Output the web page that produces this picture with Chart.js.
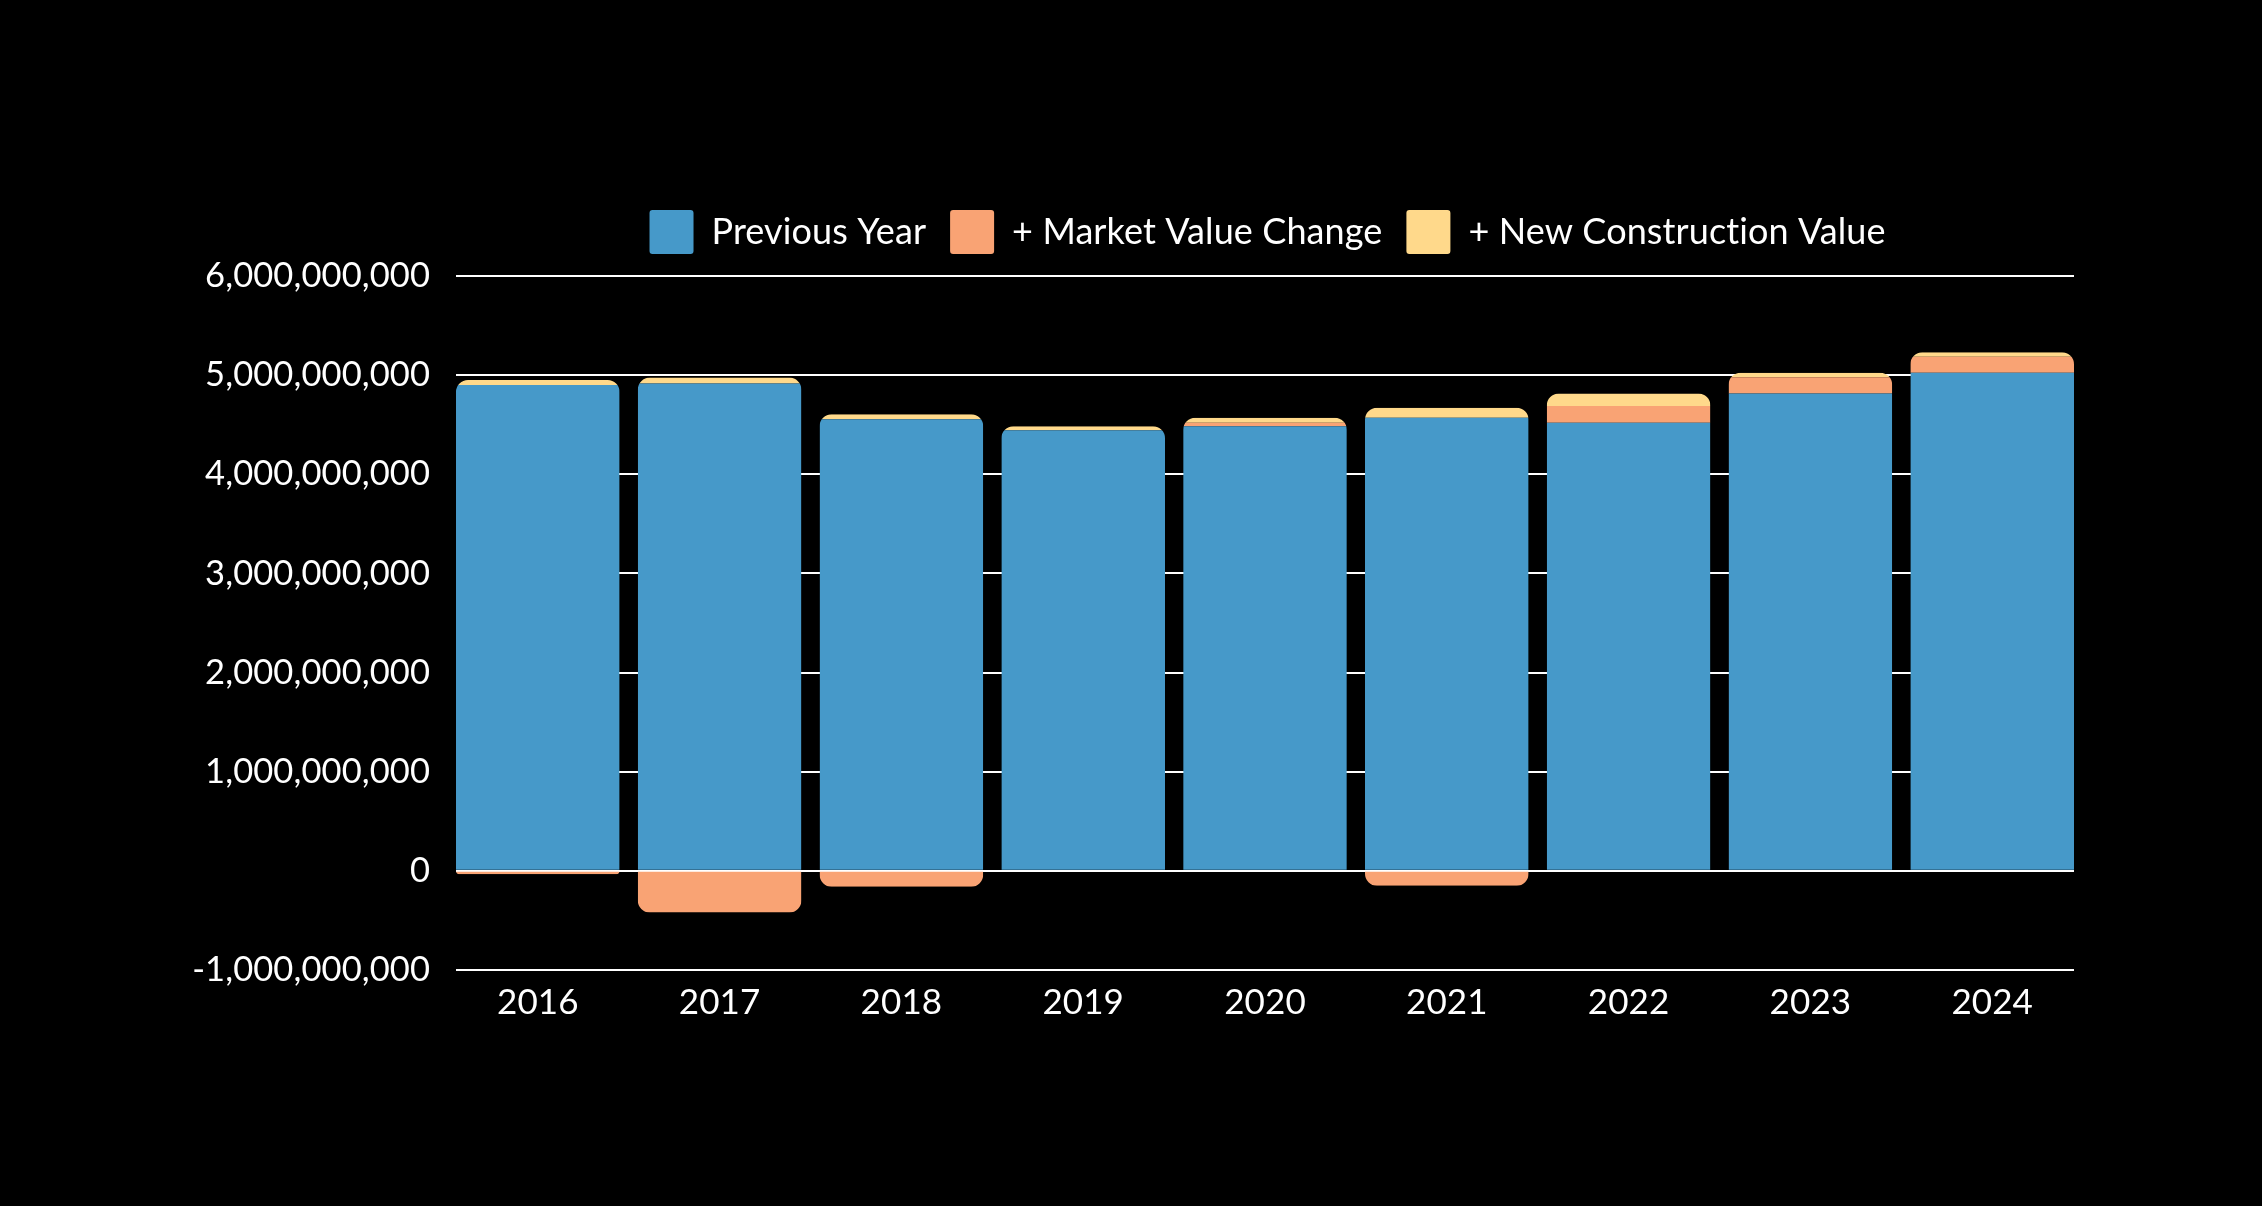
<!DOCTYPE html>
<html>
<head>
<meta charset="utf-8">
<title>Assessed Value</title>
<script src="https://cdn.jsdelivr.net/npm/chart.js@4.4.1/dist/chart.umd.min.js"></script>
<style>
    html, body { margin: 0; padding: 0; background: #000; }
    .chart-box { width: 2262px; height: 1206px; position: relative; }
</style>
</head>
<body>
<div class="chart-box"><canvas class="js-chartjs-bars"></canvas></div>
<script>
    // values
    const years = ['2016', '2017', '2018', '2019', '2020', '2021', '2022', '2023', '2024'];
    const previousYear = [4900000000, 4915000000, 4555000000, 4445000000, 4485000000, 4570000000, 4520000000, 4815000000, 5025000000];
    const marketChange = [-35000000, -420000000, -160000000, 0, 35000000, -150000000, 170000000, 165000000, 160000000];
    const newConstruction = [50000000, 60000000, 50000000, 40000000, 50000000, 100000000, 125000000, 45000000, 45000000];
    const yTicks = [-1000000000, 0, 1000000000, 2000000000, 3000000000, 4000000000, 5000000000, 6000000000];

    const xFont = { family: 'Lato', size: 35 };
    const yFont = { family: 'Lato', size: 34.5 };
    const legendFont = { family: 'Lato', size: 36 };
    const barRadius = 12;
    const barPct = 0.9;

    // bars sit on an index axis so the outer bars touch the plot edges
    function points(values) {
        return values.map(function (v, i) { return { x: i, y: v }; });
    }

    // fixed legend height so the plot starts where it does in the picture
    const legendSpace = {
        id: 'legendSpace',
        beforeInit: function (chart) {
            const fit = chart.legend.fit;
            chart.legend.fit = function () {
                fit.call(this);
                this.height = 90;
            };
        }
    };

    // no "ti" ligature in the labels
    const noLigatures = {
        id: 'noLigatures',
        beforeDraw: function (chart) {
            chart.ctx.letterSpacing = '0.1px';
        }
    };

    // round the outer ends of each whole stack, not each piece
    const stackClip = {
        id: 'stackClip',
        beforeDatasetsDraw: function (chart) {
            const ctx = chart.ctx;
            const metas = chart.getSortedVisibleDatasetMetas();
            const zero = chart.scales.y.getPixelForValue(0);
            ctx.save();
            ctx.beginPath();
            years.forEach(function (l, i) {
                let top = zero, bottom = zero, left = 0, width = 0;
                metas.forEach(function (m) {
                    const p = m.data[i].getProps(['x', 'y', 'base', 'width'], true);
                    left = p.x - p.width / 2;
                    width = p.width;
                    top = Math.min(top, p.y, p.base);
                    bottom = Math.max(bottom, p.y, p.base);
                });
                if (zero - top > 0) ctx.roundRect(left, top, width, zero - top, [barRadius, barRadius, 0, 0]);
                if (bottom - zero > 0) ctx.roundRect(left, zero, width, bottom - zero, [0, 0, barRadius, barRadius]);
            });
            ctx.clip();
        },
        afterDatasetsDraw: function (chart) {
            chart.ctx.restore();
        }
    };

    let $dashChartBarsCnt = document.querySelector('.js-chartjs-bars').getContext('2d');

    let $dashChartBarsData = {
        datasets: [
            {
                label: 'Previous Year',
                data: points(previousYear),
                backgroundColor: '#4699c9',
                borderWidth: 0
            },
            {
                label: '+ Market Value Change',
                data: points(marketChange),
                backgroundColor: '#f9a374',
                borderWidth: 0
            },
            {
                label: '+ New Construction Value',
                data: points(newConstruction),
                backgroundColor: '#ffd98b',
                borderWidth: 0
            }
        ]
    };

    new Chart($dashChartBarsCnt, {
        type: 'bar',
        data: $dashChartBarsData,
        plugins: [legendSpace, noLigatures, stackClip],
        options: {
            responsive: true,
            maintainAspectRatio: false,
            animation: false,
            layout: { padding: { top: 186, left: 190, right: 188, bottom: 156 } },
            datasets: { bar: { categoryPercentage: 1, barPercentage: barPct } },
            plugins: {
                tooltip: { enabled: false },
                legend: {
                    position: 'top',
                    fullSize: false,
                    labels: {
                        color: '#ffffff',
                        font: legendFont,
                        boxWidth: 44,
                        boxHeight: 44,
                        useBorderRadius: true,
                        borderRadius: 3,
                        padding: 24
                    }
                }
            },
            scales: {
                x: {
                    type: 'linear',
                    stacked: true,
                    offset: false,
                    min: -barPct / 2,
                    max: years.length - 1 + barPct / 2,
                    afterFit: function (axis) { axis.height = 80; },
                    afterBuildTicks: function (axis) {
                        axis.ticks = years.map(function (y, i) { return { value: i }; });
                    },
                    grid: { display: false, drawTicks: false },
                    border: { display: false },
                    ticks: {
                        color: '#ffffff',
                        font: xFont,
                        padding: 12,
                        autoSkip: false,
                        maxRotation: 0,
                        callback: function (v) { return years[v]; }
                    }
                },
                y: {
                    stacked: true,
                    min: -1000000000,
                    max: 6000000000,
                    afterFit: function (axis) { axis.width = 266; },
                    afterBuildTicks: function (axis) {
                        axis.ticks = yTicks.map(function (v) { return { value: v }; });
                    },
                    grid: { color: '#ffffff', lineWidth: 2, drawTicks: false },
                    border: { display: false },
                    ticks: {
                        color: '#ffffff',
                        font: yFont,
                        padding: 26,
                        callback: function (v) { return Number(v).toLocaleString('en-US'); }
                    }
                }
            }
        }
    });
</script>
</body>
</html>
